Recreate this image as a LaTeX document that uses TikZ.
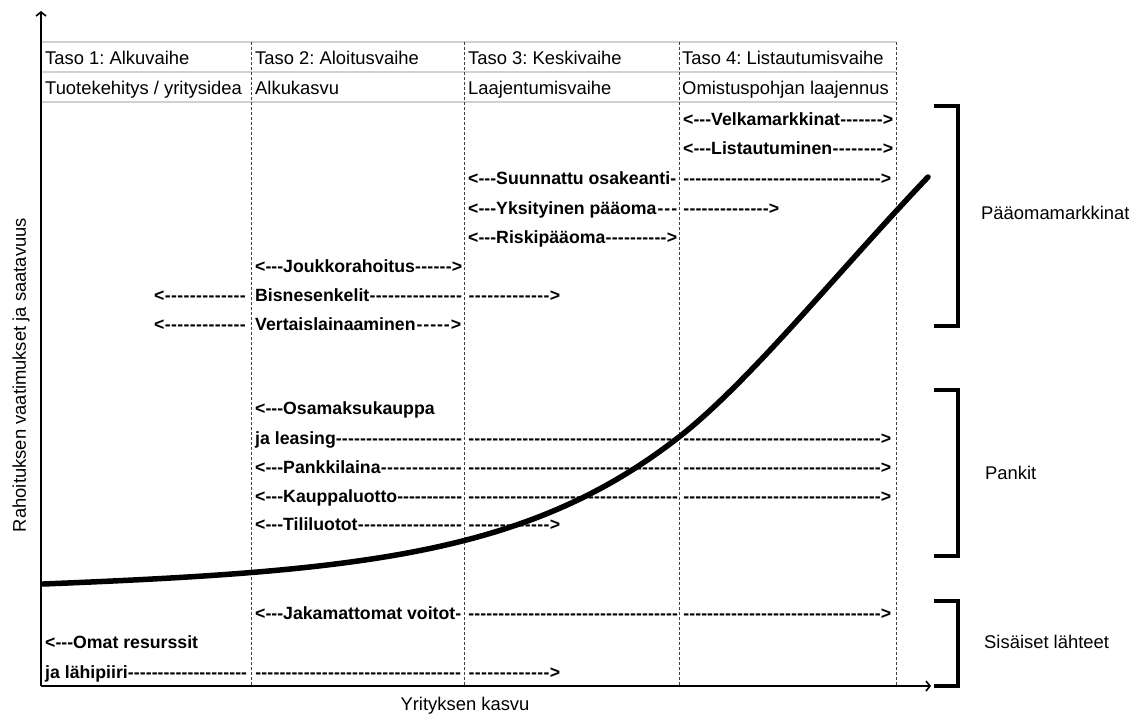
\documentclass[tikz,border=0pt]{standalone}
\usepackage{fontspec}
\setmainfont{Liberation Sans}
\newfontface\lblfont{Liberation Sans Bold}
\usetikzlibrary{arrows.meta}
\frenchspacing
\newcommand\hy{\hbox{-}}
\newcommand\dashfill{\xleaders\hbox{-}\hfill}
\tikzset{
  txt/.style={inner sep=0pt, font=\fontsize{18.4}{22}\selectfont},
  hdr/.style={txt, anchor=base west},
  lbl/.style={anchor=base west, inner sep=0pt, font=\lblfont\fontsize{17.7}{21}\selectfont},
  vline/.style={draw=black!75, line width=0.8pt, dash pattern=on 3pt off 2pt},
  hline/.style={draw=black!18, line width=1.6pt},
  axis/.style={line width=2pt, -{Straight Barb[length=4pt,width=10pt,line width=1.6pt]}},
  bracket/.style={line width=4pt},
  growth/.style={line width=5.5pt, line cap=round}
}
\begin{document}
\frenchspacing
\begin{tikzpicture}[x=1pt, y=-1pt]
\useasboundingbox (0,0) rectangle (1129,713);
% header grid
\coordinate (h1l) at (41,42); \coordinate (h1r) at (896,42);
\coordinate (h2l) at (41,72); \coordinate (h2r) at (896,72);
\coordinate (h3l) at (41,102); \coordinate (h3r) at (896,102);
\draw[hline] (h1l) -- (h1r);
\draw[hline] (h2l) -- (h2r);
\draw[hline] (h3l) -- (h3r);
\foreach \x/\n in {251/a,464/b,679/c,896/d}{
  \coordinate (v\n t) at (\x,42); \coordinate (v\n b) at (\x,686);
  \draw[vline] (v\n t) -- (v\n b);
}
% axes
\coordinate (O) at (41,686);
\coordinate (ytop) at (41,11);
\coordinate (xend) at (931,686);
\draw[axis] (O) -- (ytop);
\draw[axis] (O) -- (xend);
\node[txt, rotate=90] (ylab) at (21,375) {Rahoituksen vaatimukset ja saatavuus};
\node[txt, anchor=base] (xlab) at (465,710) {Yrityksen kasvu};
% header texts
\node[hdr] (t1) at (45,64) {Taso 1: Alkuvaihe};
\node[hdr] (t2) at (255,64) {Taso 2: Aloitusvaihe};
\node[hdr] (t3) at (468,64) {Taso 3: Keskivaihe};
\node[hdr] (t4) at (682,64) {Taso 4: Listautumisvaihe};
\node[hdr] (s1) at (45,94) {Tuotekehitys / yritysidea};
\node[hdr] (s2) at (255,94) {Alkukasvu};
\node[hdr] (s3) at (468,94) {Laajentumisvaihe};
\node[hdr] (s4) at (682,94) {Omistuspohjan laajennus};
% growth curve
\coordinate (c0) at (43,584);
\coordinate (c1) at (679,437);
\coordinate (c2) at (928,177);
\draw[growth] (c0) .. controls (363,571.2) and (529,554) .. (c1)
                   .. controls (749,382.4) and (838,271.5) .. (c2);
% labels
\node[lbl] (velk) at (683,125) {\hbox to 210pt{<\hy\hy\hy Velkamarkkinat\dashfill>}};
\node[lbl] (list) at (683,154) {\hbox to 210pt{<\hy\hy\hy Listautuminen\dashfill>}};
\node[lbl] (suunA) at (468,184) {\hbox to 208pt{<\hy\hy\hy Suunnattu osakeanti\dashfill}};
\node[lbl] (suunB) at (683,184) {\hbox to 208pt{\dashfill>}};
\node[lbl] (yksA) at (468,214) {\hbox to 210pt{<\hy\hy\hy Yksityinen pääoma\dashfill}};
\node[lbl] (yksB) at (683,214) {\hbox to 96pt{\dashfill>}};
\node[lbl] (riski) at (468,243) {\hbox to 209pt{<\hy\hy\hy Riskipääoma\dashfill>}};
\node[lbl] (jouk) at (255,272) {\hbox to 207pt{<\hy\hy\hy Joukkorahoitus\dashfill>}};
\node[lbl] (bisL) at (154,301) {\hbox to 92pt{<\dashfill}};
\node[lbl] (bisA) at (255,301) {\hbox to 207pt{Bisnesenkelit\dashfill}};
\node[lbl] (bisB) at (468,301) {\hbox to 92pt{\dashfill>}};
\node[lbl] (verL) at (154,330) {\hbox to 92pt{<\dashfill}};
\node[lbl] (verA) at (255,330) {\hbox to 206pt{Vertaislainaaminen\dashfill>}};
\node[lbl] (osam) at (255,414) {<\hy\hy\hy Osamaksukauppa};
\node[lbl] (leasA) at (255,444) {\hbox to 207pt{ja leasing\dashfill}};
\node[lbl] (leasB) at (468,444) {\hbox to 210pt{\dashfill}};
\node[lbl] (leasC) at (683,444) {\hbox to 208pt{\dashfill>}};
\node[lbl] (pankA) at (255,473) {\hbox to 207pt{<\hy\hy\hy Pankkilaina\dashfill}};
\node[lbl] (pankB) at (468,473) {\hbox to 210pt{\dashfill}};
\node[lbl] (pankC) at (683,473) {\hbox to 208pt{\dashfill>}};
\node[lbl] (kaupA) at (255,502) {\hbox to 207pt{<\hy\hy\hy Kauppaluotto\dashfill}};
\node[lbl] (kaupB) at (468,502) {\hbox to 210pt{\dashfill}};
\node[lbl] (kaupC) at (683,502) {\hbox to 208pt{\dashfill>}};
\node[lbl] (tiliA) at (255,530) {\hbox to 207pt{<\hy\hy\hy Tililuotot\dashfill}};
\node[lbl] (tiliB) at (468,530) {\hbox to 92pt{\dashfill>}};
\node[lbl] (jakA) at (255,619) {<\hy\hy\hy Jakamattomat voitot\hy};
\node[lbl] (jakB) at (468,619) {\hbox to 210pt{\dashfill}};
\node[lbl] (jakC) at (683,619) {\hbox to 208pt{\dashfill>}};
\node[lbl] (omat) at (45,648) {<\hy\hy\hy Omat resurssit};
\node[lbl] (lahA) at (45,678) {\hbox to 202pt{ja lähipiiri\dashfill}};
\node[lbl] (lahB) at (255,678) {\hbox to 206pt{\dashfill}};
\node[lbl] (lahC) at (468,678) {\hbox to 92pt{\dashfill>}};
% brackets
\draw[bracket] (934,106) -- (958,106) -- (958,326) -- (934,326);
\draw[bracket] (934,390) -- (958,390) -- (958,556) -- (934,556);
\draw[bracket] (934,601) -- (958,601) -- (958,686) -- (934,686);
\node[hdr] (pm) at (981,219) {Pääomamarkkinat};
\node[hdr] (pk) at (985,479) {Pankit};
\node[hdr] (sl) at (984,648) {Sisäiset lähteet};
\end{tikzpicture}
\end{document}
